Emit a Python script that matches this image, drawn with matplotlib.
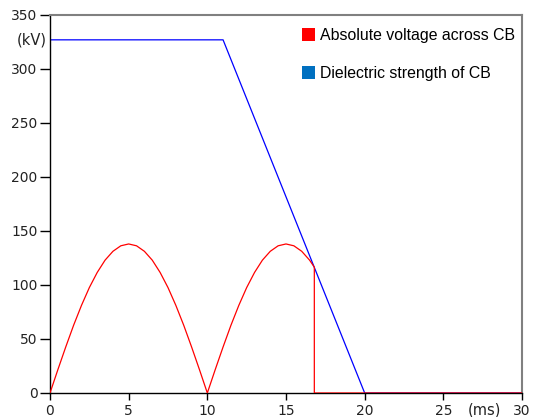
import matplotlib
matplotlib.use("Agg")
import matplotlib.pyplot as plt
from matplotlib.patches import Patch

# Data
t_voltage = [0, 0.5, 1, 1.5, 2, 2.5, 3, 3.5, 4, 4.5, 5, 5.5, 6, 6.5, 7, 7.5, 8, 8.5, 9, 9.5,
             10, 10.5, 11, 11.5, 12, 12.5, 13, 13.5, 14, 14.5, 15, 15.5, 16, 16.5, 16.8, 16.8, 30]
voltage = [0, 21.6, 42.6, 62.7, 81.1, 97.6, 111.6, 123.0, 131.2, 136.3, 138, 136.3, 131.2, 123.0,
           111.6, 97.6, 81.1, 62.7, 42.6, 21.6,
           0, 21.6, 42.6, 62.7, 81.1, 97.6, 111.6, 123.0, 131.2, 136.3, 138, 136.3, 131.2, 123.0,
           116.5, 0, 0]
t_strength = [0, 11, 20, 30]
strength = [327, 327, 0, 0]

x_ticks = [0, 5, 10, 15, 20, 25, 30]
y_ticks = [0, 50, 100, 150, 200, 250, 300, 350]

fig = plt.figure(figsize=(5.35, 4.17), dpi=100)
ax = fig.add_axes([50/535, 24/417, 472/535, 378/417])

ax.plot(t_strength, strength, color="#0000ff", lw=0.9, zorder=2)
ax.plot(t_voltage, voltage, color="#ff0000", lw=0.9, zorder=3)

ax.set_xlim(0, 30)
ax.set_ylim(0, 350)
ax.set_xticks(x_ticks)
ax.set_yticks(y_ticks)
ax.set_yticklabels([str(v) for v in y_ticks])

for s in ["left", "bottom"]:
    ax.spines[s].set_color("black")
    ax.spines[s].set_linewidth(1)
for s in ["top", "right"]:
    ax.spines[s].set_color("#808080")
    ax.spines[s].set_linewidth(1.5)

ax.tick_params(axis="y", direction="out", length=7, width=1, labelsize=10, colors="black",
               labelcolor="#222222", pad=2)
ax.tick_params(axis="x", direction="out", length=5, width=1, labelsize=10, colors="black",
               labelcolor="#222222", pad=3)

ax.text(-0.2, 327, "(kV)", ha="right", va="center", fontsize=10.5, color="#222222")
ax.text(27.6, -8.5, "(ms)", ha="center", va="top", fontsize=10.5, color="#222222")

handles = [Patch(facecolor="#ff0000", edgecolor="none"),
           Patch(facecolor="#0070c0", edgecolor="none")]
ax.legend(handles, ["Absolute voltage across CB", "Dielectric strength of CB"],
          loc="upper right", bbox_to_anchor=(1.005, 0.99), frameon=False,
          prop={"family": "Liberation Sans", "size": 11.4},
          handlelength=0.85, handleheight=0.85, handletextpad=0.3, labelspacing=1.45,
          borderaxespad=0.2)

fig.savefig("out.png", dpi=100)
